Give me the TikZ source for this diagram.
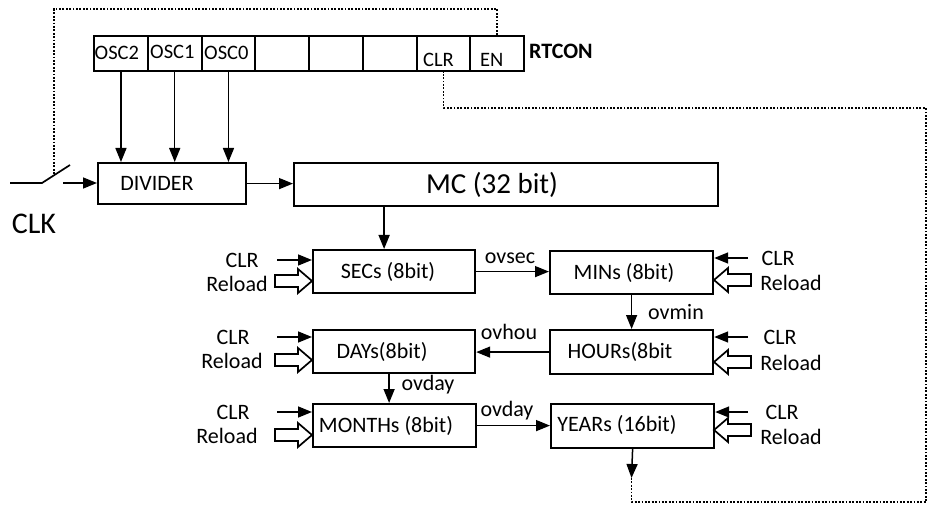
\documentclass[tikz,border=0pt]{standalone}
\usepackage{fontspec}
\setmainfont{Carlito}
\usetikzlibrary{arrows.meta}
\begin{document}
\begin{tikzpicture}[x=1pt,y=-1pt,
  box/.style={draw, line width=2.2pt, anchor=north west, inner sep=0pt},
  cell/.style={draw, line width=2.2pt, anchor=north west, minimum width=53.75pt, minimum height=35pt, inner sep=0pt},
  txt/.style={inner sep=0pt, font=\fontsize{22}{26}\selectfont},
  regtxt/.style={inner sep=0pt, font=\fontsize{20.5}{24}\selectfont},
  arr/.style={line width=1.5pt, -{Triangle[length=14pt,width=11pt]}},
  dots/.style={line width=1.8pt, dash pattern=on 1.8pt off 1.6pt},
  plain/.style={line width=1.7pt},
  hollow/.pic={\draw[line width=1.7pt] (0,-6) -- (23,-6) -- (23,-12) -- (37,0) -- (23,12) -- (23,6) -- (0,6) -- cycle;}
]
\useasboundingbox (0,0) rectangle (929,505);

% register
\foreach \i in {1,...,8} {
  \node[cell] (r\i) at ({93+(\i-1)*53.75},35) {};
}
\node[regtxt, anchor=west] (l1) at (94.5,53) {OSC2};
\node[regtxt, anchor=west] (l2) at (150,52) {OSC1};
\node[regtxt, anchor=west] (l3) at (204,53) {OSC0};
\node[regtxt, anchor=west] (l7) at (423,60) {CLR};
\node[regtxt, anchor=west] (l8) at (480,60) {EN};
\node[inner sep=0pt, anchor=west, font=\fontsize{22}{26}\selectfont\bfseries] (rtcon) at (529,51) {RTCON};

% boxes
\node[box, minimum width=148pt, minimum height=41pt] (div) at (97,162) {};
\node[txt] (tdiv) at (157,183) {DIVIDER};
\node[box, minimum width=424pt, minimum height=43pt] (mc) at (293,162) {};
\node[inner sep=0pt, font=\fontsize{29}{33}\selectfont] (tmc) at (492,185) {MC (32 bit)};

\node[box, minimum width=162pt, minimum height=43pt] (sec) at (312,249) {};
\node[txt] (tsec) at (388,272) {SECs (8bit)};
\node[box, minimum width=163pt, minimum height=43pt] (min) at (549,250) {};
\node[txt] (tmin) at (624,273) {MINs (8bit)};
\node[box, minimum width=162pt, minimum height=43pt] (day) at (312,329) {};
\node[txt] (tday) at (382,352) {DAYs(8bit)};
\node[box, minimum width=163pt, minimum height=44pt] (hour) at (549,329) {};
\node[txt] (thour) at (620,352) {HOURs(8bit};
\node[box, minimum width=163pt, minimum height=43pt] (mon) at (312,403) {};
\node[txt] (tmon) at (386,426) {MONTHs (8bit)};
\node[box, minimum width=163pt, minimum height=44pt] (year) at (550,403) {};
\node[txt] (tyear) at (617,425) {YEARs (16bit)};

% switch and CLK
\coordinate (sw0) at (10,183);
\coordinate (sw1) at (42,183);
\coordinate (sw2) at (70,165);
\draw[plain] (sw0) -- (sw1) -- (sw2);
\coordinate (swa) at (63,183);
\draw[arr] (swa) -- (swa -| div.west);
\node[inner sep=0pt, font=\fontsize{30}{34}\selectfont] (clk) at (34,224) {CLK};

% OSC arrows
\foreach \i in {1,2,3} {
  \draw[arr] (r\i.south) -- (r\i.south |- div.north);
}

% main chain
\draw[arr] (div.east) -- (div.east -| mc.west);
\draw[arr] ([xshift=-10pt]sec.north |- mc.south) -- ([xshift=-10pt]sec.north);
\draw[arr] (sec.east) -- (sec.east -| min.west);
\node[txt] (ovsec) at (510,258) {ovsec};
\draw[arr] (min.south) -- (min.south |- hour.north);
\node[txt] (ovmin) at (676,312) {ovmin};
\draw[arr] (hour.west) -- (hour.west -| day.east);
\node[txt] (ovhou) at (509,332) {ovhou};
\draw[arr] ([xshift=-5pt]day.south) -- ([xshift=-5pt]day.south |- mon.north);
\node[txt] (ovday1) at (428,385) {ovday};
\draw[arr] (mon.east) -- (mon.east -| year.west);
\node[txt] (ovday2) at (507,411) {ovday};

% YEARs out and dotted feedback
\coordinate (yout) at (631.5,478);
\draw[arr] (year.south) -- (yout);
\coordinate (d1) at (631.5,502);
\coordinate (d2) at (926,502);
\coordinate (d3) at (926,108);
\coordinate (d4) at (r7.south |- d3);
\draw[dots] (yout) -- (d1) -- (d2) -- (d3) -- (d4) -- (r7.south);

% top dotted from EN to switch
\coordinate (t0) at (0,9);
\coordinate (t1) at (r8.north |- t0);
\coordinate (t2) at (54,9);
\coordinate (t3) at (54,175);
\draw[dots] (r8.north) -- (t1) -- (t2) -- (t3);

% left CLR / Reload
\foreach \b/\cy/\ry/\lx/\rx/\hy in {sec/260/284/242/237/281, day/337/361/233/232/360, mon/412/436/233/227/435} {
  \coordinate (cl\b) at (277,\cy);
  \draw[arr] (cl\b) -- (cl\b -| \b.west);
  \node[txt] (clrl\b) at (\lx,\cy) {CLR};
  \node[txt] (rell\b) at (\rx,\ry) {Reload};
  \pic at (275,\hy) {hollow};
}

% right CLR / Reload
\foreach \b/\cy/\ry/\lx/\rx/\hy in {min/258/283/778/791/280, hour/337/363/780/791/362, year/412/437/782/791/430} {
  \coordinate (cr\b) at (748,\cy);
  \draw[arr] (cr\b) -- (cr\b -| \b.east);
  \node[txt] (clrr\b) at (\lx,\cy) {CLR};
  \node[txt] (relr\b) at (\rx,\ry) {Reload};
  \pic[xscale=-1] at (751,\hy) {hollow};
}
\end{tikzpicture}
\end{document}
